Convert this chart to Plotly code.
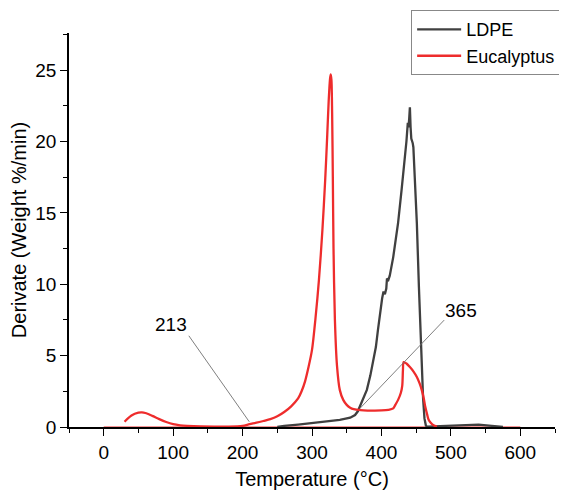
import plotly.graph_objects as go

# ---- data ----
euc_temp = [30, 40, 50, 55, 60, 70, 80, 90, 100, 110, 120, 140, 160, 180, 200, 210, 220, 230, 240,
            250, 260, 270, 280, 285, 290, 295, 300, 305, 310, 315, 319, 322, 324, 326, 327, 328, 329, 330,
            331, 333, 336, 340, 345, 350, 355, 360, 370, 380, 390, 400, 410, 417, 420, 424, 428,
            430, 431, 432, 436, 441, 446, 451, 455, 458, 461, 463, 466, 468, 471, 475, 480]
euc_deriv = [0.37, 0.8, 1.0, 1.02, 0.98, 0.78, 0.55, 0.35, 0.2, 0.12, 0.08, 0.04, 0.03, 0.03, 0.08,
             0.2, 0.3, 0.42, 0.55, 0.75, 1.05, 1.45, 2.0, 2.5, 3.2, 4.2, 5.4, 7.6, 10.3, 13.8, 17.3, 20.5,
             22.8, 24.4, 24.7, 24.3, 22.0, 17.5, 12.5, 7.5, 4.3, 2.6, 1.9, 1.55, 1.35, 1.25, 1.18, 1.15,
             1.15, 1.16, 1.2, 1.3, 1.55, 1.9, 2.4, 2.9, 4.0, 4.55, 4.45, 4.2, 3.9, 3.5, 3.05, 2.6,
             2.0, 1.45, 0.85, 0.5, 0.3, 0.12, 0.03]

ldpe_temp = [250, 260, 280, 300, 320, 340, 355, 362, 366, 369, 374, 379, 384, 388, 392, 395, 398,
             401, 403, 405, 407, 408, 410, 412, 417, 424, 429, 434, 436, 438, 439, 440, 441, 442,
             443, 445, 446, 448, 451, 454, 456, 458, 460, 462, 464, 466, 480, 500, 520, 530, 540,
             555, 565, 575]
ldpe_deriv = [0.0, 0.08, 0.17, 0.27, 0.38, 0.5, 0.65, 0.84, 1.1, 1.42, 2.0, 2.6, 3.6, 4.5, 5.6,
              6.8, 8.0, 9.0, 9.5, 9.3, 9.7, 10.4, 10.3, 10.6, 11.9, 14.3, 16.6, 18.9, 20.0, 21.3,
              21.0, 21.6, 22.4, 21.0, 20.2, 19.9, 19.6, 17.5, 14.3, 9.8, 7.2, 4.2, 2.0, 0.6, 0.1,
              0.03, 0.06, 0.12, 0.17, 0.19, 0.17, 0.1, 0.04, 0.0]

base_temp = [0, 600]
base_deriv = [0, 0]

x_ticks = [0, 100, 200, 300, 400, 500, 600]
y_ticks = [0, 5, 10, 15, 20, 25]

ann_labels = ["213", "365"]

FONT = "Liberation Sans, Arial, sans-serif"
GRAY = "#404040"
RED = "#ee2c2c"

fig = go.Figure()
fig.add_trace(go.Scatter(x=base_temp, y=base_deriv, mode="lines",
                         line=dict(color=RED, width=1), showlegend=False, hoverinfo="skip"))
fig.add_trace(go.Scatter(x=ldpe_temp, y=ldpe_deriv, mode="lines", name="LDPE",
                         line=dict(color=GRAY, width=2.3)))
fig.add_trace(go.Scatter(x=euc_temp, y=euc_deriv, mode="lines", name="Eucalyptus",
                         line=dict(color=RED, width=2.3, shape="spline", smoothing=0.8)))

# annotation leader lines
fig.add_shape(type="line", x0=122.6, y0=6.39, x1=209.6, y1=0.37, xref="x", yref="y",
              line=dict(color="#707070", width=0.9))
fig.add_shape(type="line", x0=490.4, y0=7.49, x1=369.2, y1=1.31, xref="x", yref="y",
              line=dict(color="#707070", width=0.9))
fig.add_annotation(x=97.4, y=7.18, text=ann_labels[0], showarrow=False,
                   font=dict(family=FONT, size=19, color="black"))
fig.add_annotation(x=515, y=8.19, text=ann_labels[1], showarrow=False,
                   font=dict(family=FONT, size=19, color="black"))

axis_common = dict(showline=True, linecolor="black", linewidth=1.5, ticks="outside",
                   ticklen=7, tickwidth=1.3, tickcolor="black", showgrid=False, zeroline=False,
                   tickfont=dict(family=FONT, size=19, color="black"), mirror=False)

# the page body adds an 8px margin, so the figure is sized / offset to compensate
fig.update_layout(
    width=559, height=486,
    margin=dict(l=61, r=12, t=25, b=67, autoexpand=False),
    plot_bgcolor="white", paper_bgcolor="white",
    font=dict(family=FONT, color="black"),
    xaxis=dict(range=[-50, 650], tickvals=x_ticks,
               title=dict(text="Temperature (°C)", font=dict(family=FONT, size=20), standoff=10),
               minor=dict(dtick=50, tick0=0, ticks="outside", ticklen=4, tickcolor="black", tickwidth=1.3),
               **axis_common),
    yaxis=dict(range=[0, 27.6], tickvals=y_ticks,
               title=dict(text="Derivate (Weight %/min)", font=dict(family=FONT, size=20), standoff=10),
               minor=dict(dtick=2.5, tick0=0, ticks="outside", ticklen=4, tickcolor="black", tickwidth=1.3),
               **axis_common),
    legend=dict(x=0.704, y=1.058, xanchor="left", yanchor="top", bgcolor="white",
                bordercolor="#888888", borderwidth=1, font=dict(family=FONT, size=18),
                itemwidth=44, tracegroupgap=0),
    showlegend=True,
)

fig.write_html("out.html")
